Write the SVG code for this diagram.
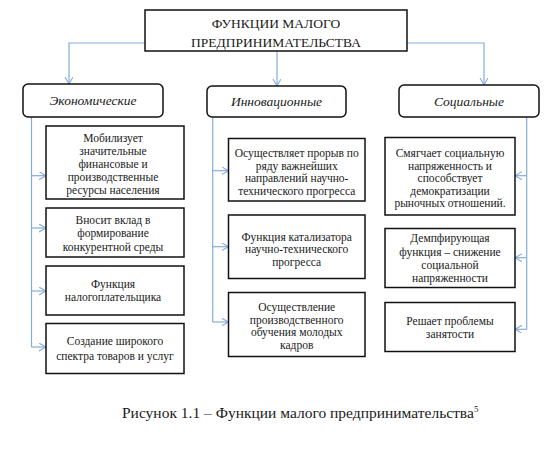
<svg xmlns="http://www.w3.org/2000/svg" width="552" height="450" viewBox="0 0 552 450" font-family="'Liberation Serif', 'DejaVu Serif', serif">
<defs>
<marker id="arr" markerUnits="userSpaceOnUse" markerWidth="10" markerHeight="10" refX="7" refY="4" orient="auto" viewBox="0 0 10 10">
<path d="M0,0 L7,4 L0,8" fill="none" stroke="#85ACDD" stroke-width="1.1"/>
</marker>
<style>
.box{fill:#fff;stroke:#111;stroke-width:1.5}
.cat{fill:#fff;stroke:#111;stroke-width:1.5}
.ln{fill:none;stroke:#85ACDD;stroke-width:1.2}
.ar{marker-end:url(#arr)}
text{font-family:'Liberation Serif','DejaVu Serif',serif;fill:#1a1a1a;text-anchor:middle}
.t{font-size:11.5px}
.h{font-size:13.5px}
.c{font-size:13.5px;font-style:italic}
.cap{font-size:15.5px;text-anchor:start}
.sup{font-size:9px}
</style>
</defs>
<rect width="552" height="450" fill="#fff"/>
<g id="connectors">
<path class="ln ar" d="M145,43 H69 V84"/>
<path class="ln ar" d="M277,51 V86"/>
<path class="ln ar" d="M407,43 H484 V85"/>
<path class="ln" d="M31.5,117 V347"/>
<path class="ln ar" d="M31.5,175.7 H46"/>
<path class="ln ar" d="M31.5,228 H46"/>
<path class="ln ar" d="M31.5,291 H46"/>
<path class="ln ar" d="M31.5,347 H46"/>
<path class="ln" d="M212.7,117 V322"/>
<path class="ln ar" d="M212.7,170.7 H228.5"/>
<path class="ln ar" d="M212.7,246.7 H228.5"/>
<path class="ln ar" d="M212.7,322 H228.5"/>
<path class="ln" d="M526.7,117 V329.3"/>
<path class="ln ar" d="M526.7,175.7 H515"/>
<path class="ln ar" d="M526.7,257.7 H515"/>
<path class="ln ar" d="M526.7,329.3 H515"/>
</g>
<g id="root">
<rect class="box" x="145" y="10" width="262" height="41"/>
<text class="h" x="276" y="28">ФУНКЦИИ МАЛОГО</text>
<text class="h" x="276" y="46.5">ПРЕДПРИНИМАТЕЛЬСТВА</text>
</g>
<g id="cat-econ">
<rect class="cat" x="23" y="84" width="140" height="33" rx="5"/>
<text class="c" x="93" y="105">Экономические</text>
</g>
<g id="cat-innov">
<rect class="cat" x="207" y="86" width="139" height="31" rx="5"/>
<text class="c" x="276.5" y="106">Инновационные</text>
</g>
<g id="cat-soc">
<rect class="cat" x="399" y="85" width="140" height="32" rx="5"/>
<text class="c" x="469" y="105.5">Социальные</text>
</g>
<g id="e1">
<rect class="box" x="46" y="126" width="138" height="73"/>
<text class="t" x="113" y="142.3">Мобилизует</text>
<text class="t" x="113" y="155.2">значительные</text>
<text class="t" x="113" y="168.1">финансовые и</text>
<text class="t" x="113" y="181">производственные</text>
<text class="t" x="113" y="193.9">ресурсы населения</text>
</g>
<g id="e2">
<rect class="box" x="46" y="208" width="138" height="49"/>
<text class="t" x="113" y="223.5">Вносит вклад в</text>
<text class="t" x="113" y="237">формирование</text>
<text class="t" x="113" y="250.5">конкурентной среды</text>
</g>
<g id="e3">
<rect class="box" x="46" y="266" width="138" height="49"/>
<text class="t" x="113" y="288">Функция</text>
<text class="t" x="113" y="301">налогоплательщика</text>
</g>
<g id="e4">
<rect class="box" x="46" y="323.5" width="138" height="50"/>
<text class="t" x="115" y="345">Создание широкого</text>
<text class="t" x="115" y="359.5">спектра товаров и услуг</text>
</g>
<g id="i1">
<rect class="box" x="228.5" y="138.5" width="136.5" height="62.5"/>
<text class="t" x="296.7" y="156.7">Осуществляет прорыв по</text>
<text class="t" x="296.7" y="169.5">ряду важнейших</text>
<text class="t" x="296.7" y="182.3">направлений научно-</text>
<text class="t" x="296.7" y="195">технического прогресса</text>
</g>
<g id="i2">
<rect class="box" x="228.5" y="215" width="136.5" height="63.5"/>
<text class="t" x="296.7" y="240.7">Функция катализатора</text>
<text class="t" x="296.7" y="253.3">научно-технического</text>
<text class="t" x="296.7" y="265.9">прогресса</text>
</g>
<g id="i3">
<rect class="box" x="228.5" y="292.5" width="136.5" height="64"/>
<text class="t" x="296.7" y="310.7">Осуществление</text>
<text class="t" x="296.7" y="323.5">производственного</text>
<text class="t" x="296.7" y="336.3">обучения молодых</text>
<text class="t" x="296.7" y="349">кадров</text>
</g>
<g id="s1">
<rect class="box" x="385" y="137.5" width="130" height="77.5"/>
<text class="t" x="450" y="157.3">Смягчает социальную</text>
<text class="t" x="450" y="169.8">напряженность и</text>
<text class="t" x="450" y="182.3">способствует</text>
<text class="t" x="450" y="194.8">демократизации</text>
<text class="t" x="450" y="207.3">рыночных отношений.</text>
</g>
<g id="s2">
<rect class="box" x="385" y="228.5" width="130" height="59"/>
<text class="t" x="450" y="242.3">Демпфирующая</text>
<text class="t" x="450" y="255.6">функция – снижение</text>
<text class="t" x="450" y="268.9">социальной</text>
<text class="t" x="450" y="282.2">напряженности</text>
</g>
<g id="s3">
<rect class="box" x="385" y="302.5" width="130" height="49"/>
<text class="t" x="450" y="324.7">Решает проблемы</text>
<text class="t" x="450" y="338">занятости</text>
</g>
<g id="caption">
<text class="cap" x="122" y="418">Рисунок 1.1 – Функции малого предпринимательства<tspan class="sup" dy="-6">5</tspan></text>
</g>
</svg>
